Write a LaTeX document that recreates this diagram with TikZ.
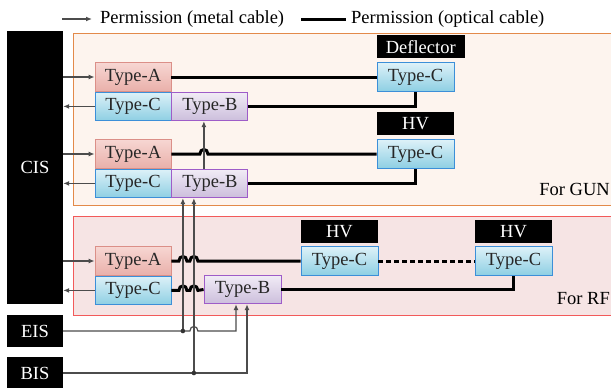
\documentclass[tikz,border=0pt]{standalone}
\usepackage{fontspec}
\setmainfont{Liberation Serif}
\usetikzlibrary{arrows.meta,positioning,calc}

\definecolor{gunfill}{HTML}{FDF4EE}
\definecolor{gunline}{HTML}{E38A4A}
\definecolor{rffill}{HTML}{F6E4E4}
\definecolor{rfline}{HTML}{F25A5A}
\definecolor{atop}{HTML}{F7D6D2}
\definecolor{abot}{HTML}{E9B0AA}
\definecolor{aline}{HTML}{DB8F88}
\definecolor{ctop}{HTML}{DDF1F8}
\definecolor{cbot}{HTML}{8ECFE3}
\definecolor{cline}{HTML}{3C8FD8}
\definecolor{btop}{HTML}{F1ECF6}
\definecolor{bbot}{HTML}{CCBEDC}
\definecolor{bline}{HTML}{9E5CC8}

\tikzset{
  typebox/.style={line width=0.9pt, minimum width=76pt, minimum height=28.5pt, inner sep=0pt, text=black!85},
  typea/.style={typebox, draw=aline, top color=atop, bottom color=abot},
  typeb/.style={typebox, draw=bline, top color=btop, bottom color=bbot},
  typec/.style={typebox, draw=cline, top color=ctop, bottom color=cbot},
  tag/.style={fill=black, text=white, minimum width=77pt, minimum height=23pt, inner sep=0pt},
  sys/.style={fill=black, text=white, minimum width=56pt, inner sep=0pt},
  metal/.style={draw=black!70, line width=1.2pt, -{Latex[length=6pt,width=5pt]}},
  optical/.style={line width=3pt},
  hop/.style={insert path={.. controls +(0,-6) and +(0,-6) .. ++(8,0)}},
}

\begin{document}
\begin{tikzpicture}[x=1pt,y=-1pt, every node/.style={font=\rmfamily\fontsize{18.5}{21}\selectfont}]
  \useasboundingbox (0,0) rectangle (611,388);

  % zones
  \draw[fill=gunfill, draw=gunline, line width=1pt] (73,33) rectangle (616,205);
  \draw[fill=rffill, draw=rfline, line width=1pt] (73,216) rectangle (616,315);
  \node[anchor=base east, inner sep=0pt] (forgun) at (610,195) {For GUN};
  \node[anchor=base east, inner sep=0pt] (forrf) at (610,304) {For RF};

  % legend
  \coordinate (lgm) at (62,19);
  \node[anchor=west, inner sep=0pt] (lgmetal) at (100,19) {Permission (metal cable)};
  \coordinate (lgo) at (301,19);
  \node[anchor=west, inner sep=0pt] (lgoptic) at (351,19) {Permission (optical cable)};
  \draw[metal] (lgm) -- ++(30,0);
  \draw[optical] (lgo) -- ++(45,0);

  % interlock systems
  \node[sys, minimum height=273pt] (cis) at (35,167.5) {CIS};
  \node[sys, minimum height=32pt] (eis) at (35,331) {EIS};
  \node[sys, minimum height=32pt] (bis) at (35,373) {BIS};

  % GUN
  \node[typea] (gunA1) at (133,77) {Type-A};
  \node[typec, below=0pt of gunA1] (gunC1) {Type-C};
  \node[typeb, right=0pt of gunC1] (gunB1) {Type-B};
  \node[typec, minimum width=77pt] (gunCd) at (415.5,77) {Type-C};
  \node[tag, minimum width=88pt, above right=4pt and 0pt of gunCd.north west] (defl) {Deflector};

  \node[typea] (gunA2) at (133,154) {Type-A};
  \node[typec, below=0pt of gunA2] (gunC2) {Type-C};
  \node[typeb, right=0pt of gunC2] (gunB2) {Type-B};
  \node[typec, minimum width=77pt] (gunCh) at (415.5,154) {Type-C};
  \node[tag, above=4pt of gunCh] (hvgun) {HV};

  % RF
  \node[typea] (rfA) at (133,261) {Type-A};
  \node[typec, below=0pt of rfA] (rfC) {Type-C};
  \node[typeb, minimum width=77pt] (rfB) at (242.5,289.5) {Type-B};
  \node[typec, minimum width=77pt] (rfC1) at (339.5,261) {Type-C};
  \node[typec, minimum width=77pt] (rfC2) at (513.5,261) {Type-C};
  \node[tag, above=3pt of rfC1] (hv1) {HV};
  \node[tag, above=3pt of rfC2] (hv2) {HV};

  \coordinate (vU) at ($(gunB2.north)+(-6,0)$);
  \coordinate (vE) at ($(gunB2.south)+(-27,0)$);
  \coordinate (vB) at ($(gunB2.south)+(-16,0)$);
  \coordinate (rE) at ($(rfB.south)+(-6.5,0)$);
  \coordinate (rB) at ($(rfB.south)+(4.5,0)$);

  % metal cables to and from CIS
  \draw[metal] (cis.east |- gunA1.west) -- (gunA1.west);
  \draw[metal] (gunC1.west) -- (cis.east |- gunC1.west);
  \draw[metal] (cis.east |- gunA2.west) -- (gunA2.west);
  \draw[metal] (gunC2.west) -- (cis.east |- gunC2.west);
  \draw[metal] (cis.east |- rfA.west) -- (rfA.west);
  \draw[metal] (rfC.west) -- (cis.east |- rfC.west);

  % optical cables
  \draw[optical] (gunA1.east) -- (gunCd.west);
  \draw[optical] (gunB1.east) -| (gunCd.south);
  \draw[optical] (gunA2.east) -- ($(vU |- gunA2.east)+(-4,0)$) [hop] -- (gunCh.west);
  \draw[optical] (gunB2.east) -| (gunCh.south);
  \draw[optical] (rfA.east) -- ($(vE |- rfA.east)+(-4,0)$) [hop]
    -- ($(vB |- rfA.east)+(-4,0)$) [hop] -- (rfC1.west);
  \draw[optical, dash pattern=on 4.5pt off 3.5pt] (rfC1.east) -- (rfC2.west);
  \draw[optical] (rfC.east) -- ($(vE |- rfC.east)+(-4,0)$) [hop]
    -- ($(vB |- rfC.east)+(-4,0)$) [hop] -- (rfB.west);
  \draw[optical] (rfB.east) -| (rfC2.south);

  % metal cables from EIS and BIS
  \draw[metal] (vU) -- (vU |- gunB1.south);
  \draw[metal] (eis.east) -- ($(vB |- eis.east)+(-4,0)$) [hop] -| (rE);
  \draw[metal] (vE |- eis.east) -- (vE);
  \draw[metal] (bis.east) -| (rB);
  \draw[metal] (vB |- bis.east) -- (vB);
  \fill[black!80] (vE |- eis.east) circle[radius=2.3pt];
  \fill[black!80] (vB |- bis.east) circle[radius=2.3pt];
\end{tikzpicture}
\end{document}
